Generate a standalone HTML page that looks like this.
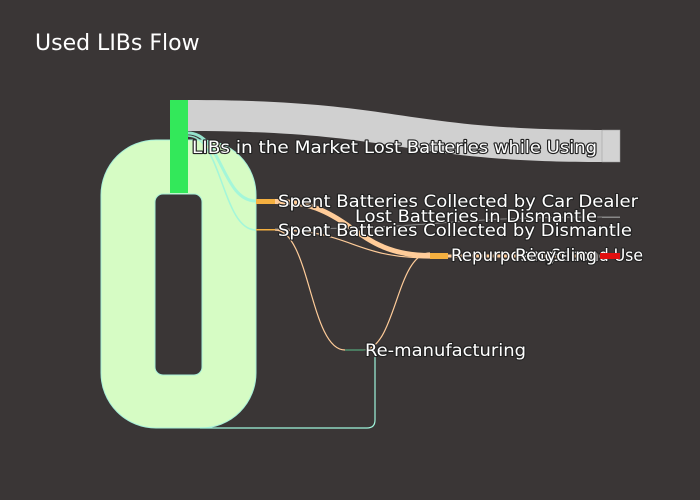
<!DOCTYPE html>
<html><head><meta charset="utf-8"><style>
html,body{margin:0;padding:0;background:#3a3636;}
svg{display:block}
text{font-family:"DejaVu Sans","Liberation Sans",sans-serif;font-size:16.5px;fill:#fff;paint-order:stroke;stroke:#222;stroke-width:2.2px;stroke-linejoin:round}
</style></head><body>
<svg width="700" height="500" viewBox="0 0 700 500" xmlns="http://www.w3.org/2000/svg">
<rect width="700" height="500" fill="#3a3636"/>
<text x="35" y="50" style="font-size:22px;stroke:none">Used LIBs Flow</text>
<path fill-rule="evenodd" fill="#d6fcc4" stroke="#a8f0d8" stroke-width="1" d="M156,140 H201 A55,55 0 0 1 256,195 V373 A55,55 0 0 1 201,428 H156 A55,55 0 0 1 101,373 V195 A55,55 0 0 1 156,140 Z M163,194 H194 A8,8 0 0 1 202,202 V367 A8,8 0 0 1 194,375 H163 A8,8 0 0 1 155,367 V202 A8,8 0 0 1 163,194 Z"/>
<path fill="#d0d0d0" d="M188,100 C400,100 400,130 602,130 V162 C400,162 400,131 188,131 Z"/>
<rect x="602" y="130" width="18" height="32" fill="#d3d3d3" stroke="#999" stroke-width="0.5"/>
<path d="M188,133 C222,133 222,201 256,201" fill="none" stroke="#9ff5dc" stroke-width="3" opacity="0.9"/>
<path d="M188,136 C222,136 222,230 256,230" fill="none" stroke="#9ff5dc" stroke-width="1.5" opacity="0.9"/>
<path d="M275,201.5 C352,201.5 352,255.5 430,255.5" fill="none" stroke="#ffcc99" stroke-width="5"/>
<path d="M275,230 C352,230 352,258 430,258" fill="none" stroke="#ffcc99" stroke-width="1.2"/>
<path d="M275,230 C310,230 310,350 345,350" fill="none" stroke="#ffcc99" stroke-width="1.2"/>
<path d="M275,229 C440,229 440,217 602,217" fill="none" stroke="#888" stroke-width="1"/>
<path d="M363,350 C396,350 396,253 430,253" fill="none" stroke="#ffcc99" stroke-width="1.2"/>
<path d="M448,256 C520,256 520,256 602,256" fill="none" stroke="#ffcc99" stroke-width="3"/>
<path d="M375,351 V420 Q375,428 367,428 H200" fill="none" stroke="#9ff5dc" stroke-width="1.2"/>
<path d="M363,350 H375" fill="none" stroke="#4a7a60" stroke-width="1.5"/>
<rect x="170" y="100" width="18" height="93" fill="#33e85a"/>
<rect x="256" y="199" width="19" height="5" fill="#f5b040"/>
<rect x="256" y="229" width="19" height="1.5" fill="#f5b040"/>
<rect x="345" y="349" width="18" height="2" fill="#4a7a60"/>
<rect x="430" y="253" width="18" height="6" fill="#f5b040"/>
<rect x="602" y="216.5" width="18" height="1.5" fill="#888"/>
<text x="192" y="153" textLength="166" lengthAdjust="spacingAndGlyphs">LIBs in the Market</text>
<text x="597" y="153" text-anchor="end" textLength="233" lengthAdjust="spacingAndGlyphs">Lost Batteries while Using</text>
<text x="278" y="207" textLength="360" lengthAdjust="spacingAndGlyphs">Spent Batteries Collected by Car Dealer</text>
<text x="597" y="222" text-anchor="end" textLength="242" lengthAdjust="spacingAndGlyphs">Lost Batteries in Dismantle</text>
<text x="278" y="236" textLength="354" lengthAdjust="spacingAndGlyphs">Spent Batteries Collected by Dismantle</text>
<text x="643" y="261" text-anchor="end" textLength="92" lengthAdjust="spacingAndGlyphs">Second Use</text>
<text x="451" y="261" textLength="104" lengthAdjust="spacingAndGlyphs">Repurposing</text>
<text x="597" y="261" text-anchor="end" textLength="82" lengthAdjust="spacingAndGlyphs">Recycling</text>
<text x="365" y="356" textLength="161" lengthAdjust="spacingAndGlyphs">Re-manufacturing</text>
<rect x="600" y="253" width="20" height="6" fill="#e01010"/>
</svg>
</body></html>
